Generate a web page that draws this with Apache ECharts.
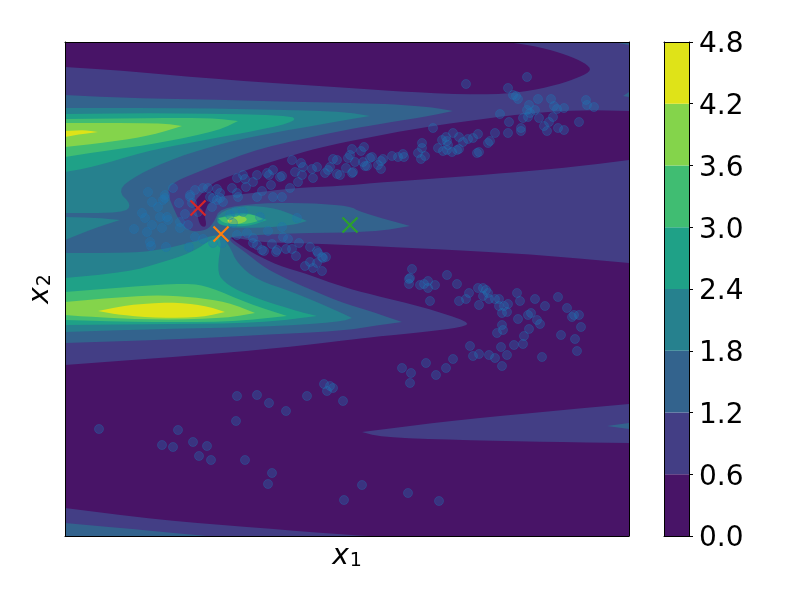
<!DOCTYPE html>
<html><head><meta charset="utf-8">
<style>html,body{margin:0;padding:0;background:#fff}#c{width:800px;height:600px}</style>
<script src="https://cdn.jsdelivr.net/npm/echarts@6/dist/echarts.min.js"></script>
</head><body><div id="c"></div>
<script>
const levelTicks = [0, 0.6, 1.2, 1.8, 2.4, 3.0, 3.6, 4.2, 4.8];
const levelColors = ['#481467', '#433e85', '#33638d', '#26818e', '#1fa187', '#40bd72', '#84d44b', '#dfe318'];

// Filled contour regions as [x1, x2] pairs on the plot's own scale.
const x1Range = [65, 629];
const x2Range = [42, 536];

const band1Base = [[65,42],[629,42],[629,536],[65,536]];
const band0Top = [[65,42],[507,42],[540,47],[567,55],[585,63],[592,70],[580,77],[557,85],[523,92],[483,95],[407,92],[350,88],[227,80],[127,71],[65,67]];
const band0Wedge = [[629,111],[590,110],[540,112],[473,120],[407,130],[340,143],[310,150],[267,163],[227,177],[213,183],[205,190],[193,203],[197,213],[200,226],[207,227],[204,213],[209,203],[220,196],[245,194],[293,188],[340,186],[373,183],[440,178],[507,173],[573,167],[629,160]];
const band0Lower = [[230,237],[260,242],[293,243],[350,245],[457,250],[540,255],[629,263],[629,404],[540,412],[440,422],[362,432],[380,437],[457,440],[553,442],[629,443],[629,536],[370,536],[350,535],[260,528],[160,520],[65,508],[65,365],[160,358],[260,350],[340,341],[373,337],[423,332],[463,327],[470,322],[423,307],[373,295],[340,286],[310,275],[277,265],[253,253],[237,243]];

const band2Main = [[65,95],[127,98],[227,100],[350,103],[390,104],[430,107],[453,111],[423,117],[373,125],[340,131],[260,148],[210,167],[173,182],[167,192],[173,207],[180,222],[190,232],[207,230],[214,222],[220,208],[260,203],[310,203],[350,206],[360,212],[410,226],[373,232],[300,233],[233,236],[228,240],[245,252],[265,268],[293,282],[340,302],[373,312],[402,322],[373,326],[340,331],[260,335],[160,340],[65,343]];
const band2Corner = [[613,42],[629,42],[629,45]];
const band2Edge = [[623,96],[629,92],[629,97]];
const band2Right = [[607,426],[629,423],[629,429]];
const band2Foot = [[65,523],[143,530],[207,536],[65,536]];

const band3Upper = [[65,108],[193,108],[340,111],[370,116],[340,121],[277,132],[227,142],[177,157],[137,175],[117,190],[132,205],[123,213],[65,213]];
const band3Wedge = [[65,217],[100,218],[120,220],[95,228],[65,240]];
const band3Lower = [[65,253],[127,253],[160,250],[193,242],[213,235],[222,236],[230,247],[237,263],[257,280],[293,292],[340,312],[352,318],[340,322],[260,327],[160,329],[65,332]];
const band3Centre = [[217,213],[243,205],[277,208],[307,221],[293,225],[260,228],[217,227]];

const band4Upper = [[65,114],[160,113],[290,115],[297,121],[260,130],[193,142],[143,152],[93,167],[65,172]];
const band4Lower = [[65,278],[127,272],[160,263],[193,252],[213,238],[222,238],[217,270],[223,282],[247,295],[293,310],[317,316],[260,323],[160,324],[65,325]];
const band4Centre = [[223,215],[247,212],[267,220],[247,227],[215,225]];

const band5Upper = [[65,119],[160,118],[210,118],[238,121],[220,130],[160,143],[110,150],[65,157]];
const band5Lower = [[65,292],[127,287],[187,283],[210,287],[247,303],[287,316],[227,322],[143,322],[65,320]];
const band5Centre = [[218,218],[250,213],[263,219],[250,224],[225,224]];

const band6Upper = [[65,123],[160,123],[182,126],[153,135],[110,142],[65,147]];
const band6Lower = [[65,302],[110,298],[153,295],[193,297],[227,302],[255,313],[227,318],[160,320],[93,317],[65,315]];
const band6Centre = [[227,218],[243,215],[248,220],[240,224],[228,224]];

const band7Upper = [[65,131],[85,130],[98,132],[75,135],[65,137]];
const band7Lower = [[98,311],[127,305],[170,302],[203,305],[225,312],[203,317],[160,318],[120,315]];
const band7Centre = [[228,220],[232,219],[232,222],[228,223]];

const contourRegions = [
  [1, band1Base], [0, band0Top], [0, band0Wedge], [0, band0Lower],
  [2, band2Main], [2, band2Corner], [2, band2Edge], [2, band2Right], [2, band2Foot],
  [3, band3Upper], [3, band3Wedge], [3, band3Lower], [3, band3Centre],
  [4, band4Upper], [4, band4Lower], [4, band4Centre],
  [5, band5Upper], [5, band5Lower], [5, band5Centre],
  [6, band6Upper], [6, band6Lower], [6, band6Centre],
  [7, band7Upper], [7, band7Lower], [7, band7Centre]
];

const samples = [
[412,269],[409,279],[409,284],[410,278],[420,285],[424,284],[428,281],[428,288],[435,285],[447,275],[457,284],[430,301],[459,301],[466,299],[469,293],[478,288],[483,288],[486,290],[483,296],[488,293],[489,299],[495,299],[499,299],[479,305],[499,306],[504,306],[508,304],[507,312],[502,313],[517,293],[520,301],[535,299],[545,306],[558,297],[567,308],[572,317],[574,315],[579,315],[581,327],[561,335],[575,339],[577,351],[542,357],[518,319],[528,315],[531,313],[537,320],[540,324],[529,329],[524,336],[523,344],[514,345],[502,325],[503,330],[497,333],[501,347],[507,355],[502,366],[495,358],[489,355],[479,354],[473,356],[470,346],[453,359],[446,368],[436,375],[426,363],[411,373],[402,368],[410,383],
[237,396],[257,395],[269,403],[286,411],[307,396],[324,384],[330,386],[333,388],[327,391],[343,401],[236,421],[99,429],[178,430],[162,445],[173,447],[193,442],[207,446],[199,456],[211,460],[245,460],[272,473],[268,484],[344,500],[362,485],[408,493],[439,501],
[466,84],[527,77],[508,88],[513,95],[516,96],[518,99],[538,99],[551,99],[554,106],[557,109],[564,108],[586,100],[587,105],[594,107],[529,105],[527,110],[535,110],[530,113],[528,117],[523,118],[539,118],[553,117],[549,122],[544,126],[547,131],[558,128],[564,130],[579,122],[500,114],[509,122],[508,133],[521,128],[521,131],[495,133],[433,128],[478,134],[473,138],[468,139],[463,142],[459,137],[453,133],[446,137],[442,140],[447,141],[448,145],[457,150],[459,149],[452,152],[447,150],[443,151],[438,148],[422,143],[422,148],[418,153],[425,156],[421,159],[403,154],[404,157],[398,157],[392,156],[383,159],[381,161],[372,157],[370,158],[364,147],[361,151],[352,149],[350,155],[348,158],[355,162],[363,162],[367,166],[365,166],[378,165],[381,169],[353,172],[352,173],[346,168],[340,175],[477,153],[479,152],[488,143],[490,141],
[148,192],[173,188],[165,195],[163,200],[195,190],[203,188],[208,188],[190,195],[217,189],[220,193],[232,188],[237,178],[243,175],[245,179],[257,175],[253,182],[246,187],[237,193],[238,197],[262,191],[257,197],[273,170],[267,173],[269,175],[280,177],[282,176],[271,185],[273,197],[282,197],[290,188],[298,182],[292,160],[301,163],[303,167],[295,172],[302,175],[312,169],[317,167],[313,178],[325,173],[328,170],[333,159],[337,160],[330,167],[337,174],[220,198],[213,198],[210,197],
[152,202],[158,207],[165,198],[142,213],[145,218],[134,229],[147,232],[150,242],[151,246],[152,225],[160,217],[167,217],[168,220],[162,228],[166,247],[179,203],[185,214],[180,228],[180,222],[188,225],[190,197],[192,203],[198,212],[189,247],[195,237],[203,239],[213,243],[222,243],[217,200],[223,202],[212,207],[230,215],[235,212],[243,212],[233,223],[260,217],[282,227],[297,218],[283,237],[268,231],[247,233],[237,235],[253,238],[257,245],[262,250],[264,251],[253,243],[272,244],[277,250],[276,252],[286,249],[292,249],[288,239],[299,243],[296,256],[310,247],[317,251],[318,253],[323,258],[322,257],[326,257],[310,262],[305,266],[313,268],[322,271],[317,263]
];
const candidateRed = [[198,208]];
const candidateOrange = [[221,234]];
const candidateGreen = [[350,225]];

const crossPath = 'path://M0 0L10 10M10 0L0 10';
function crossSeries(name, data, color) {
  return { name, type:'scatter', data, xAxisIndex:0, yAxisIndex:0, symbol:crossPath, symbolSize:15, z:10, silent:true,
    itemStyle:{color:'none', borderColor:color, borderWidth:2.2, opacity:1} };
}
const mathText = { a:{fontFamily:'DejaVu Sans', fontStyle:'italic', fontSize:28, color:'#000'}, b:{fontFamily:'DejaVu Sans', fontSize:19, color:'#000', padding:[10,0,0,1]} };

// Rounds the drawn outline of a contour the way a curve option would: sharp tips and plot-edge corners stay put.
function roundOutline(pts) {
  const onEdge = p => p[0]===x1Range[0]||p[0]===x1Range[1]||p[1]===x2Range[0]||p[1]===x2Range[1];
  let cur = pts.map(p=>({p,fixed:onEdge(p)}));
  const n0 = cur.length;
  cur.forEach((v,i)=>{
    const a=cur[(i-1+n0)%n0].p,b=v.p,c=cur[(i+1)%n0].p;
    const u=[a[0]-b[0],a[1]-b[1]],w=[c[0]-b[0],c[1]-b[1]];
    const cos=(u[0]*w[0]+u[1]*w[1])/(Math.hypot(...u)*Math.hypot(...w));
    if(cos>0.6) v.fixed=true;
  });
  for(let k=0;k<2;k++){
    const out=[]; const n=cur.length;
    cur.forEach((v,i)=>{
      const nx=cur[(i+1)%n];
      if(v.fixed) out.push(v);
      if(!v.fixed) out.push({p:[0.75*v.p[0]+0.25*nx.p[0],0.75*v.p[1]+0.25*nx.p[1]],fixed:false});
      if(!nx.fixed) out.push({p:[0.25*v.p[0]+0.75*nx.p[0],0.25*v.p[1]+0.75*nx.p[1]],fixed:false});
    });
    cur=out;
  }
  return cur.map(v=>v.p);
}

const chart = echarts.init(document.getElementById('c'), null, {renderer:'canvas'});
const frame = {show:true,onZero:false,lineStyle:{color:'#000',width:1}};
chart.setOption({
  backgroundColor:'#fff',
  animation:false,
  grid:[
    {left:65, top:42, width:564, height:494},
    {left:664, top:42, width:25, height:494}
  ],
  xAxis:[
    {gridIndex:0, type:'value', min:x1Range[0], max:x1Range[1], position:'bottom', z:20, axisLine:frame, axisTick:{show:false}, axisLabel:{show:false}, splitLine:{show:false},
      name:'{a|x}{b|1}', nameLocation:'middle', nameGap:6, nameTextStyle:{rich:mathText, verticalAlign:'top'}},
    {gridIndex:0, type:'value', min:x1Range[0], max:x1Range[1], position:'top', z:20, axisLine:frame, axisTick:{show:false}, axisLabel:{show:false}, splitLine:{show:false}},
    {gridIndex:1, type:'value', min:0, max:1, position:'bottom', z:20, axisLine:frame, axisTick:{show:false}, axisLabel:{show:false}, splitLine:{show:false}},
    {gridIndex:1, type:'value', min:0, max:1, position:'top', z:20, axisLine:frame, axisTick:{show:false}, axisLabel:{show:false}, splitLine:{show:false}}
  ],
  yAxis:[
    {gridIndex:0, type:'value', inverse:true, min:x2Range[0], max:x2Range[1], position:'left', z:20, axisLine:frame, axisTick:{show:false}, axisLabel:{show:false}, splitLine:{show:false},
      name:'{a|x}{b|2}', nameLocation:'middle', nameGap:10, nameRotate:90, nameTextStyle:{rich:mathText}},
    {gridIndex:0, type:'value', inverse:true, min:x2Range[0], max:x2Range[1], position:'right', z:20, axisLine:frame, axisTick:{show:false}, axisLabel:{show:false}, splitLine:{show:false}},
    {gridIndex:1, type:'value', min:0, max:4.8, interval:0.6, position:'right', z:20, axisLine:frame,
      axisTick:{show:true,length:4,lineStyle:{color:'#000',width:1}},
      axisLabel:{show:true,margin:10,formatter:v=>'{v|'+v.toFixed(1)+'}',rich:{v:{fontFamily:'DejaVu Sans',fontSize:28,color:'#000',padding:[6,0,0,0]}}}, splitLine:{show:false}},
    {gridIndex:1, type:'value', min:0, max:4.8, position:'left', z:20, axisLine:frame, axisTick:{show:false}, axisLabel:{show:false}, splitLine:{show:false}}
  ],
  series:[
    { type:'custom', name:'contours', xAxisIndex:0, yAxisIndex:0, clip:true, silent:true, z:2,
      data:contourRegions.map((r,i)=>[i]),
      encode:{x:-1,y:-1},
      renderItem:(params,api)=>{
        const r = contourRegions[params.dataIndex];
        return {type:'polygon', shape:{points:roundOutline(r[1]).map(p=>api.coord(p))}, style:{fill:levelColors[r[0]], stroke:null}};
      }},
    { type:'scatter', name:'samples', xAxisIndex:0, yAxisIndex:0, data:samples, symbol:'circle', symbolSize:9, z:5, silent:true,
      itemStyle:{color:'rgba(31,119,180,0.4)', borderColor:'rgba(31,119,180,0.4)', borderWidth:1} },
    crossSeries('red', candidateRed, '#d62728'),
    crossSeries('orange', candidateOrange, '#ff7f0e'),
    crossSeries('green', candidateGreen, '#2ca02c'),
    { type:'custom', name:'colorbar', xAxisIndex:2, yAxisIndex:2, silent:true, z:2,
      data:levelColors.map((c,i)=>[0,levelTicks[i],1,levelTicks[i+1]]),
      encode:{x:[0,2],y:[1,3]},
      renderItem:(params,api)=>{
        const a = api.coord([api.value(0),api.value(1)]), b = api.coord([api.value(2),api.value(3)]);
        return {type:'rect', shape:{x:a[0],y:b[1],width:b[0]-a[0],height:a[1]-b[1]}, style:{fill:levelColors[params.dataIndex]}};
      }}
  ]
});
</script></body></html>
